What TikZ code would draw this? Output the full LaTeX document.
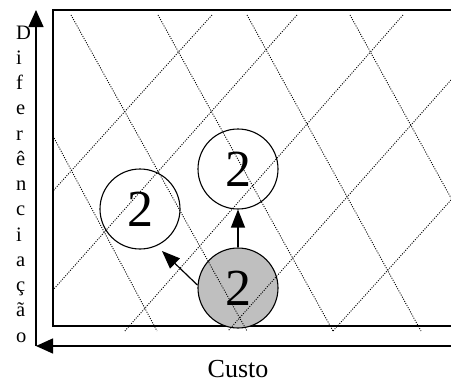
\documentclass[tikz,border=0pt]{standalone}
\usepackage{fontspec}
\setmainfont{Liberation Serif}
\usetikzlibrary{arrows.meta}
\definecolor{shade}{gray}{0.75}

\begin{document}
\begin{tikzpicture}[
  x=1pt, y=-1pt,
  >={Triangle[length=17pt,width=15pt]},
  axisline/.style={->, line width=1.4pt},
  border/.style={line width=1.4pt},
  hatch/.style={dash pattern=on 1pt off 1.4pt, line width=0.9pt},
  firm/.style={draw, circle, line width=1.1pt, minimum size=80pt, inner sep=0pt, font=\fontsize{52}{52}\selectfont},
  move/.style={->, line width=1.2pt, >={Triangle[length=18pt,width=14pt]}},
  letter/.style={anchor=base west, inner sep=0pt, font=\fontsize{20.5}{20.5}\selectfont}
]
  \clip (0,0) rectangle (451,383);
  \draw[border] (53,10) rectangle (470,326);
  \coordinate (o) at (36,346);
  \coordinate (ytop) at (36,10);
  \coordinate (xend) at (470,346);
  \draw[axisline] (o) -- (ytop);
  \draw[axisline] (xend) -- (o);
  \foreach \ch [count=\k] in {D,i,f,e,r,ê,n,c,i,a,ç,ã,o}
    \node[letter] (v\k) at (16,{39+25.25*(\k-1)}) {\ch};
  \node[font=\fontsize{26}{26}\selectfont, anchor=base] (cost) at (238,377) {Custo};
  \node[firm, fill=shade] (g) at (238,288) {2};
  \node[firm] (u) at (238,169) {2};
  \node[firm] (l) at (140,209) {2};
  \foreach \xa/\ya/\xb/\yb in {53/136/157/331, 71/15/247/331, 158/15/333/331, 247/15/421/331, 350/15/451/198,
      212/15/53/191, 297/15/53/290, 403/15/124/332, 451/80/228/331, 451/200/333/331}
    \draw[hatch] (\xa,\ya) -- (\xb,\yb);
  \coordinate (ltip) at (162,251);
  \draw[move] (g) -- (u);
  \draw[move] (g.176) -- (ltip);
\end{tikzpicture}
\end{document}
